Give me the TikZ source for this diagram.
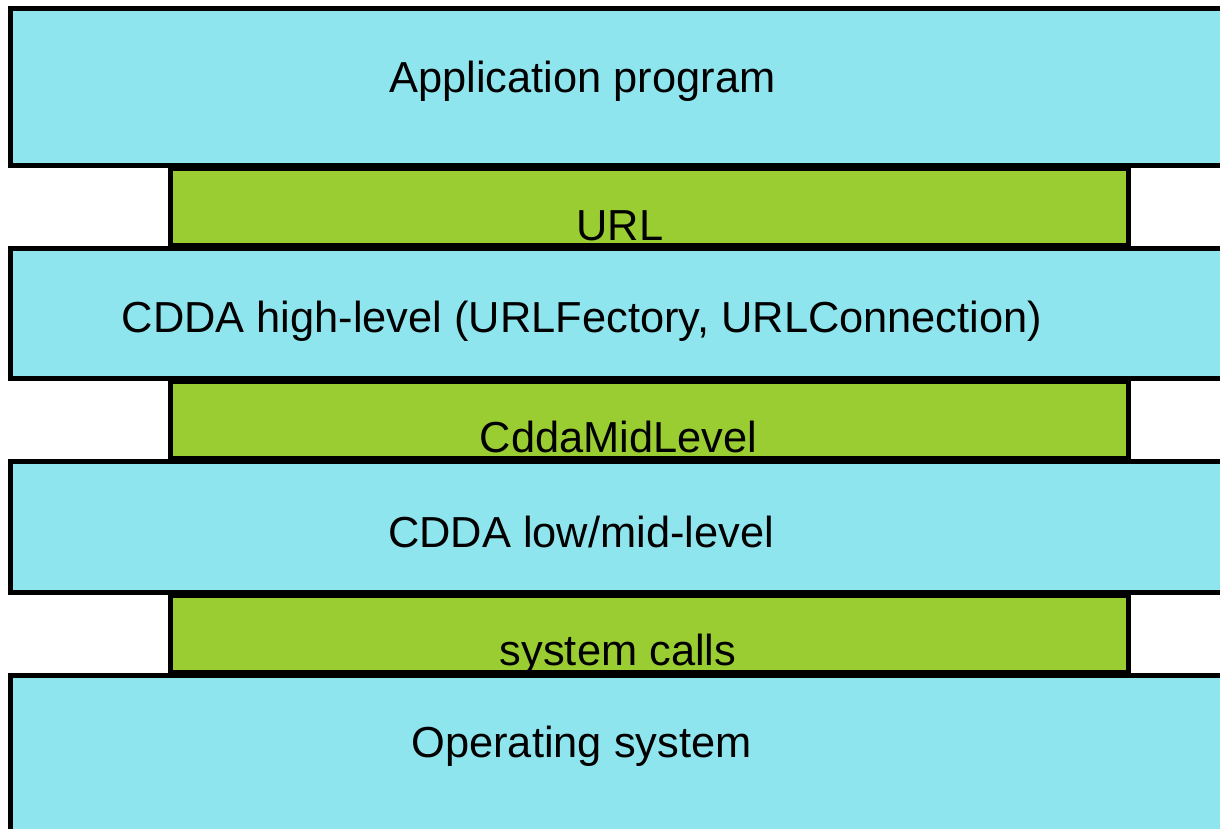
\documentclass[tikz,border=0pt]{standalone}
\usepackage{fontspec}
\setmainfont{Liberation Sans}
\definecolor{layerblue}{HTML}{8EE5EE}
\definecolor{layergreen}{HTML}{9ACD32}
\begin{document}
\begin{tikzpicture}[x=1pt,y=-1pt,
  layer/.style={draw=black, line width=5pt, fill=layerblue, rectangle, inner sep=0pt, outer sep=0pt, anchor=north west},
  iface/.style={draw=black, line width=5pt, fill=layergreen, rectangle, inner sep=0pt, outer sep=0pt, anchor=north west},
  lbl/.style={anchor=base, inner sep=0pt, font=\fontsize{43.4}{50}\selectfont}]
\useasboundingbox (0,0) rectangle (1220,828);
\clip (0,0) rectangle (1220,828);
\fill[white] (0,0) rectangle (1220,828);
% layers
\node[layer, minimum width=1240pt, minimum height=157.5pt] (app) at (10.5,8) {};
\node[layer, minimum width=1240pt, minimum height=130pt] (high) at (10.5,248.5) {};
\node[layer, minimum width=1240pt, minimum height=131.5pt] (low) at (10.5,461) {};
\node[layer, minimum width=1240pt, minimum height=200pt] (os) at (10.5,675) {};
% interfaces
\node[iface, minimum width=958pt, minimum height=77.5pt] (url) at (170.5,168) {};
\node[iface, minimum width=958pt, minimum height=77pt] (mid) at (170.5,381) {};
\node[iface, minimum width=958pt, minimum height=77pt] (sys) at (170.5,595) {};
% labels
\node[lbl] (tapp) at (582.5,92) {Application program};
\node[lbl] (turl) at (620,240) {URL};
\node[lbl] (thigh) at (582,332) {CDDA high-level (URLFectory, URLConnection)};
\node[lbl] (tmid) at (618.5,452) {CddaMidLevel};
\node[lbl] (tlow) at (581,547) {CDDA low/mid-level};
\node[lbl] (tsys) at (618,665) {system calls};
\node[lbl] (tos) at (581.5,757) {Operating system};
\end{tikzpicture}
\end{document}
